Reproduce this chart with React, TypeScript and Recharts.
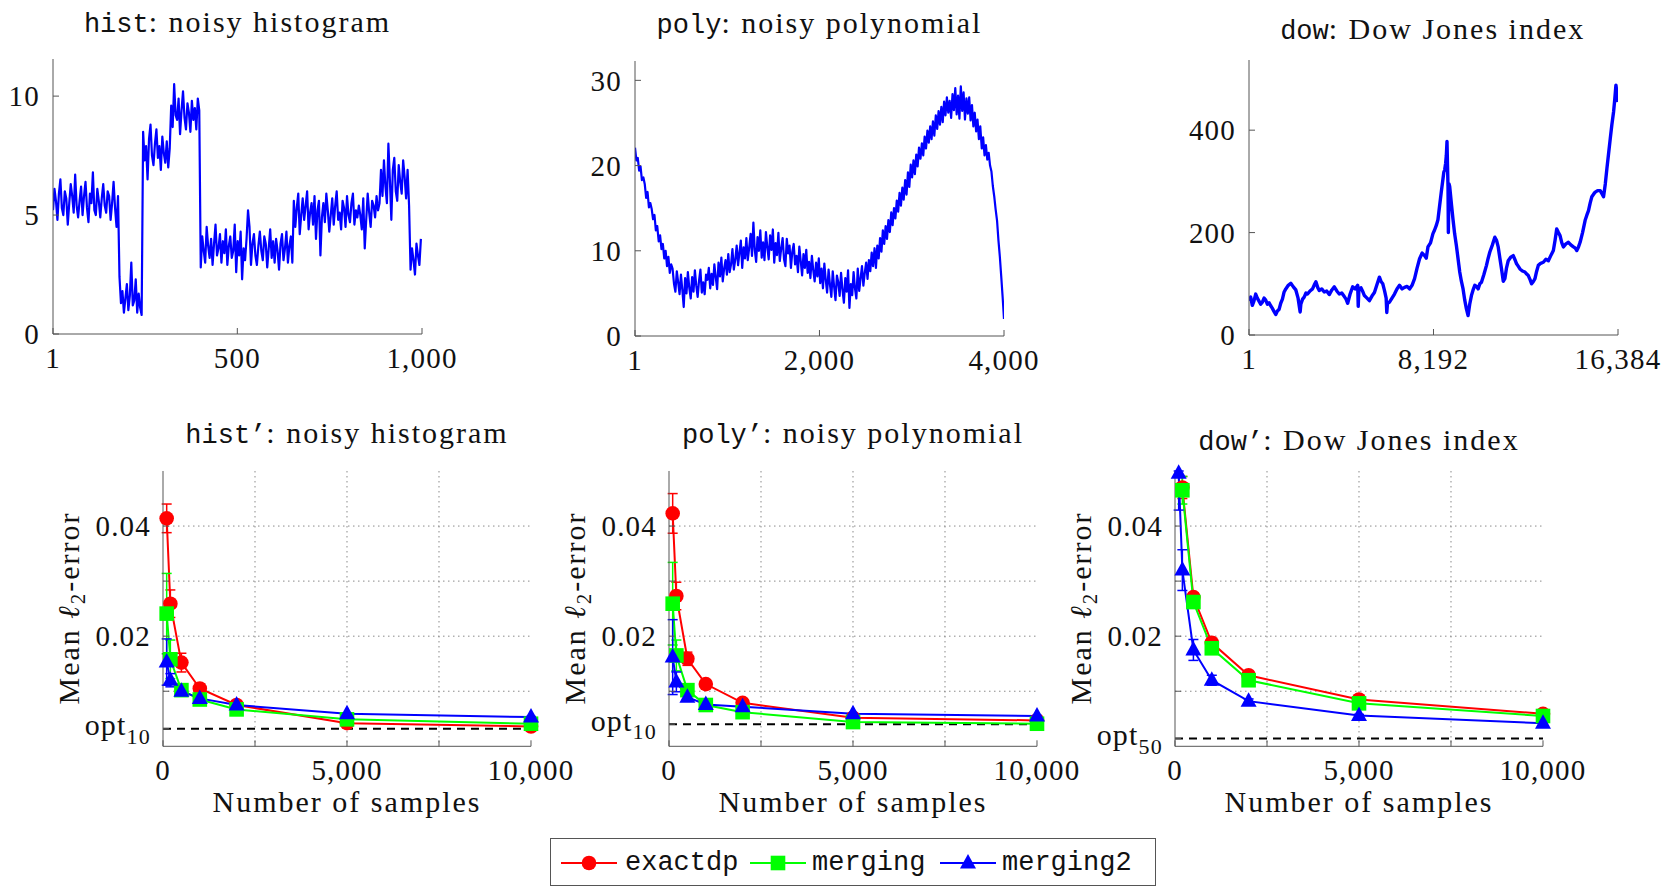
import React from "react";
import {
  LineChart,
  Line,
  XAxis,
  YAxis,
  CartesianGrid,
  ReferenceLine,
  ErrorBar,
} from "recharts";

const SERIF = '"Liberation Serif", "DejaVu Serif", serif';
const MONO = '"Liberation Mono", "DejaVu Sans Mono", monospace';
const RED = "#ff0000";
const GREEN = "#00ff00";
const BLUE = "#0000ff";
const FRAME = "#555555";
const INK = "#111111";
const TICK = { fontFamily: SERIF, fontSize: 29, fill: INK, letterSpacing: 1.2 };

// ---- top row: the raw signals ----
// hist: one value every 4 samples, starting at 1
const histValues = [
  5.2, 6.1, 5.6, 4.8, 5.9, 6.5, 5.3, 5.0, 6.0, 5.7, 4.6, 5.5, 6.3, 5.8, 5.1, 6.7, 5.4, 4.9, 5.6, 6.2,
  5.0, 5.8, 6.4, 5.3, 4.7, 5.9, 5.5, 6.8, 5.2, 5.0, 6.1, 5.6, 4.9, 5.7, 6.3, 5.4, 5.1, 6.0, 5.8, 4.8,
  5.5, 6.4, 5.3, 4.5, 5.8,
  2.4, 1.3, 1.8, 0.9, 1.5, 2.1, 1.0, 1.6, 3.0, 1.2, 1.4, 2.3, 0.9, 1.7, 1.1, 0.8,
  8.5, 7.3, 7.9, 6.5, 8.2, 8.8, 7.5, 7.1, 8.0, 8.6, 7.4, 7.9, 6.9, 8.3, 7.6, 7.2, 8.1, 7.0, 7.8,
  9.6, 8.7, 10.5, 9.2, 9.0, 9.9, 8.4, 9.4, 10.2, 9.1, 8.6, 9.7, 9.3, 8.5, 9.8, 9.0, 9.5, 8.6, 9.9, 9.4,
  2.8, 4.1, 3.5, 3.0, 4.5, 3.7, 3.2, 4.0, 2.9, 3.8, 4.6, 3.3, 3.6, 4.2, 3.0, 3.9, 3.4, 4.4, 2.9, 3.7,
  4.1, 3.2, 3.5, 4.6, 2.6, 3.9, 3.3, 4.3, 2.3, 3.6, 3.1, 4.0, 5.2, 4.5, 2.9, 3.8, 4.2, 3.3, 2.9, 3.7,
  4.3, 3.5, 3.1, 4.1, 3.8, 2.8, 3.6, 4.4, 3.2, 3.9, 3.0, 4.0, 3.5, 2.7, 3.8, 4.2, 3.1, 3.6, 4.3, 3.0,
  3.7, 4.1, 3.0,
  5.6, 4.5, 5.3, 5.9, 4.2, 5.0, 5.7, 4.8, 5.4, 6.0, 4.4, 5.1, 5.5, 4.6, 5.8, 4.0, 5.2, 5.6, 3.3, 4.9,
  5.5, 4.7, 5.9, 5.2, 4.3, 5.0, 5.7, 4.6, 5.4, 6.0, 4.8, 5.1, 4.4, 5.6, 5.3, 4.5, 5.8, 5.0, 4.7, 5.5,
  5.9, 4.6, 5.2, 4.9, 5.4, 5.0, 4.4, 5.7, 3.6, 4.8, 5.9, 5.1, 4.5, 5.6, 5.4, 4.9, 5.8, 5.2, 5.5,
  6.9, 5.8, 7.3, 6.2, 5.5, 8.0, 6.5, 4.8, 6.9, 7.4, 6.0, 5.6, 7.1, 6.4, 5.9, 7.3, 6.6, 5.7, 6.9, 5.4,
  2.7, 3.6, 3.1, 2.5, 3.8, 3.3, 2.9, 4.0,
];

// poly: evenly spread over 1..4000
const polyValues = [
  22.1, 20.6, 20.9, 19.4, 19.9, 18.3, 18.6, 17.8, 16.2, 16.9, 15.1, 15.6, 14.9, 13.7,
  14.2, 12.4, 12.9, 11.1, 11.8, 10.2, 10.8, 9.1, 10.0, 8.2, 9.3, 7.4, 8.4,
  7.9, 6.1, 5.2, 7.6, 6.3, 4.9, 7.2, 5.4, 3.4, 6.8, 5.0, 7.5, 5.6,
  4.4, 6.9, 5.2, 7.7, 5.9, 4.6, 6.5, 7.8, 5.1, 6.3, 4.9, 7.2, 6.6, 8.0, 5.6, 7.3, 6.0, 8.4, 6.9, 5.5,
  8.6, 7.0, 9.2, 6.4, 7.9, 8.9, 7.2, 9.6, 7.5, 8.4, 10.2, 7.8, 9.0, 10.6, 8.3, 9.8, 11.2, 8.0, 10.4, 9.1,
  11.5, 8.9, 10.3, 12.0, 9.4, 13.3, 10.1, 8.7, 11.6, 10.0, 12.4, 9.2, 11.0, 8.9, 12.2, 10.4, 9.0, 11.8, 10.1, 12.5,
  8.6, 10.9, 9.5, 12.1, 8.8, 10.3, 11.5, 9.0, 8.2, 11.4, 9.7, 10.6, 8.0, 9.9, 10.8, 8.4, 9.4, 7.5, 10.5, 8.8,
  7.1, 9.6, 8.0, 10.1, 7.4, 8.7, 6.8, 9.4, 7.7, 6.4, 8.6, 7.0, 9.1, 6.2, 7.9, 5.6, 8.5, 6.6, 5.1, 7.8,
  6.0, 4.6, 7.6, 5.8, 4.2, 7.1, 6.3, 4.7, 7.4, 5.5, 3.9, 6.8, 5.2, 7.7, 3.3, 6.1, 4.8, 7.5, 5.6, 4.4,
  7.9, 5.3, 6.8, 8.2, 5.9, 7.4, 8.6, 6.7, 8.9, 7.6, 9.8, 8.2, 10.3, 8.0, 10.6, 9.1, 11.5, 9.9, 12.4, 10.8,
  12.9, 11.4, 13.6, 12.2, 14.5, 13.0, 15.0, 13.8, 15.9, 14.6, 16.8, 15.3, 17.4, 16.0, 18.3, 16.6, 19.2, 17.5, 20.1, 18.6,
  20.6, 19.0, 21.3, 19.9, 22.1, 20.8, 22.6, 21.2, 23.4, 22.0, 24.1, 22.7, 24.6, 23.1, 25.2, 23.5, 25.9, 24.3, 26.4, 24.8,
  26.9, 25.1, 27.5, 25.9, 28.0, 26.2, 27.6, 25.6, 28.4, 26.5, 29.1, 26.0, 28.2, 25.5, 29.3, 26.4, 28.6, 25.4, 27.9, 26.1,
  28.0, 25.3, 27.1, 24.6, 26.2, 24.0, 25.4, 23.1, 24.6, 22.0, 23.3, 21.2, 22.4, 20.7, 21.5, 20.0, 19.3, 17.6, 16.4, 14.9,
  13.5, 11.2, 9.3, 7.0, 4.6, 2.0,
];

const dowIndex = [
  1, 75, 149, 220, 298, 370, 446, 520, 595, 670, 743, 820, 892, 965, 1040, 1110, 1188, 1260, 1337, 1410,
  1485, 1560, 1634, 1745, 1857, 1970, 2080, 2180, 2272, 2302, 2380, 2451, 2530, 2600, 2710, 2822, 2900, 2971,
  3050, 3119, 3230, 3342, 3450, 3565, 3680, 3788, 3900, 4010, 4120, 4233, 4310, 4382, 4490, 4604, 4715, 4827,
  4850, 4880, 4976, 5050, 5124, 5240, 5347, 5460, 5570, 5680, 5792, 5870, 5941, 6020, 6090, 6119, 6150, 6238,
  6350, 6461, 6570, 6684, 6800, 6906, 7020, 7129, 7240, 7352, 7460, 7574, 7690, 7797, 7870, 7946, 8060, 8168,
  8240, 8317, 8390, 8465, 8540, 8614, 8650, 8688, 8730, 8763, 8792, 8815, 8837, 8852, 8882, 8911, 8990, 9060,
  9130, 9208, 9280, 9357, 9430, 9505, 9580, 9654, 9728, 9800, 9877, 9950, 10025, 10100, 10174, 10250, 10322,
  10430, 10545, 10620, 10694, 10800, 10916, 10990, 11065, 11140, 11213, 11290, 11361, 11430, 11510, 11620,
  11733, 11810, 11881, 11960, 12030, 12140, 12252, 12330, 12401, 12480, 12549, 12620, 12698, 12770, 12846,
  12950, 13069, 13180, 13292, 13400, 13514, 13590, 13663, 13740, 13811, 13890, 13960, 14070, 14183, 14290,
  14405, 14480, 14554, 14630, 14702, 14810, 14925, 15000, 15074, 15150, 15222, 15300, 15371, 15480, 15594,
  15670, 15742, 15820, 15891, 15960, 16039, 16110, 16188, 16240, 16292, 16340, 16384,
];
const dowValues = [
  67, 74, 58, 66, 80, 72, 66, 60, 64, 72, 68, 60, 63, 57, 52, 46, 40, 47, 50, 62,
  70, 84, 90, 97, 101, 94, 88, 72, 45, 60, 70, 74, 82, 80, 86, 90, 98, 104,
  93, 87, 90, 84, 86, 79, 88, 94, 86, 80, 82, 75, 70, 62, 80, 94, 90, 97,
  56, 90, 92, 85, 77, 72, 67, 76, 83, 98, 113, 104, 100, 86, 72, 44, 62, 64,
  72, 80, 90, 97, 90, 93, 95, 90, 97, 110, 130, 149, 160, 155, 150, 172, 180, 198,
  205, 214, 225, 253, 280, 305, 318, 322, 335, 351, 378, 330, 290, 200, 295, 290, 255, 225,
  198, 175, 150, 123, 105, 90, 68, 51, 38, 60, 77, 88, 97, 95, 90, 100, 103,
  118, 136, 150, 162, 175, 191, 185, 172, 150, 129, 105, 110, 130, 145, 152,
  155, 147, 139, 134, 129, 125, 123, 119, 116, 108, 100, 104, 110, 124, 136,
  140, 142, 148, 145, 155, 165, 185, 207, 200, 194, 180, 172, 178, 181, 176,
  172, 170, 165, 172, 181, 200, 224, 234, 243, 258, 270, 275, 279, 282, 282,
  276, 270, 295, 325, 352, 383, 410, 436, 460, 488, 472, 455,
];

// ---- bottom row: mean l2-error vs number of samples ----
const samples = [100, 200, 500, 1000, 2000, 5000, 10000];

const histExactdp = [0.0414, 0.0259, 0.0152, 0.0105, 0.0075, 0.0042, 0.0036];
const histExactdpErr = [0.0026, 0.0025, 0.0017, 0.0008, 0.0004, 0.0002, 0.0002];
const histMerging = [0.0241, 0.0158, 0.0102, 0.0085, 0.0067, 0.0049, 0.0041];
const histMergingErr = [0.0073, 0.0035, 0.0008, 0.0006, 0.0003, 0.0002, 0.0001];
const histMerging2 = [0.0153, 0.012, 0.01, 0.0087, 0.0075, 0.0059, 0.0053];
const histMerging2Err = [0.0042, 0.0012, 0.0006, 0.0004, 0.0002, 0.0001, 0.0001];
const histOpt = 0.0032;

const polyExactdp = [0.0423, 0.0273, 0.0159, 0.0113, 0.0079, 0.0052, 0.0047];
const polyExactdpErr = [0.0036, 0.0025, 0.0012, 0.0006, 0.0004, 0.0002, 0.0001];
const polyMerging = [0.0259, 0.0165, 0.0102, 0.0075, 0.0062, 0.0044, 0.0041];
const polyMergingErr = [0.0075, 0.0028, 0.0008, 0.0004, 0.0002, 0.0001, 0.0001];
const polyMerging2 = [0.0162, 0.0117, 0.0089, 0.0076, 0.0072, 0.0059, 0.0055];
const polyMerging2Err = [0.0068, 0.0018, 0.0006, 0.0003, 0.0002, 0.0001, 0.0001];
const polyOpt = 0.004;

const dowExactdp = [null, 0.047, 0.0271, 0.0188, 0.0129, 0.0085, 0.0059];
const dowExactdpErr = [null, 0.002, 0.0008, 0.0005, 0.0003, 0.0002, 0.0001];
const dowMerging = [null, 0.0465, 0.0262, 0.0178, 0.012, 0.0078, 0.0055];
const dowMergingErr = [null, 0.0025, 0.0008, 0.0005, 0.0003, 0.0002, 0.0001];
const dowMerging2 = [0.0496, 0.032, 0.0175, 0.012, 0.0082, 0.0056, 0.0042];
const dowMerging2Err = [[0.0067, 0.0004], 0.0037, 0.0019, 0.0009, 0.0004, 0.0002, 0.0001];
const dowOpt = 0.0014;

const histData = histValues.map((y, i) => ({ x: 1 + 4 * i, y }));
const polyData = polyValues.map((y, i) => ({
  x: Math.round(1 + (i * 3999) / (polyValues.length - 1)),
  y,
}));
const dowData = dowIndex.map((x, i) => ({ x, y: dowValues[i] }));

const errRows = (a: any[], ae: any[], m: any[], me: any[], m2: any[], m2e: any[]) =>
  samples.map((x, i) => ({ x, a: a[i], ae: ae[i], m: m[i], me: me[i], m2: m2[i], m2e: m2e[i] }));

const histErrData = errRows(histExactdp, histExactdpErr, histMerging, histMergingErr, histMerging2, histMerging2Err);
const polyErrData = errRows(polyExactdp, polyExactdpErr, polyMerging, polyMergingErr, polyMerging2, polyMerging2Err);
const dowErrData = errRows(dowExactdp, dowExactdpErr, dowMerging, dowMergingErr, dowMerging2, dowMerging2Err);

const fmt = (v: number) => v.toLocaleString("en-US");

function SignalPanel({ left, top, data, xTicks, yTicks, yMax, lineWidth }: any) {
  const padL = 70, padR = 60, padT = 12, padB = 50;
  const w = 369, h = 275;
  const xDomain = [xTicks[0], xTicks[xTicks.length - 1]];
  return (
    <div style={{ position: "absolute", left: left - padL, top: top - padT }}>
      <LineChart
        width={padL + w + padR}
        height={padT + h + padB}
        data={data}
        margin={{ top: padT, right: padR, bottom: 0, left: 0 }}
      >
        <XAxis xAxisId="b" dataKey="x" type="number" domain={xDomain} ticks={xTicks} interval={0}
          allowDataOverflow height={padB} tickSize={-6} tickMargin={19} stroke={FRAME}
          tickFormatter={fmt} tick={TICK} />
        <XAxis xAxisId="t" orientation="top" dataKey="x" type="number" domain={xDomain} ticks={xTicks}
          interval={0} allowDataOverflow height={0} tickSize={-6} tick={false} stroke={FRAME} />
        <YAxis yAxisId="l" type="number" domain={[0, yMax]} ticks={yTicks} interval={0} allowDataOverflow
          width={padL} tickSize={-6} tickMargin={19} stroke={FRAME} tick={TICK} />
        <YAxis yAxisId="r" orientation="right" type="number" domain={[0, yMax]} ticks={yTicks} interval={0}
          allowDataOverflow width={0} tickSize={-6} tick={false} stroke={FRAME} />
        <Line xAxisId="b" yAxisId="l" type="linear" dataKey="y" stroke={BLUE} strokeWidth={lineWidth}
          strokeLinejoin="round" dot={false} activeDot={false} isAnimationActive={false} />
      </LineChart>
    </div>
  );
}

const redDot = (p: any) =>
  p.cx == null || p.cy == null || p.value == null ? (
    <g key={"r" + p.index} />
  ) : (
    <circle key={"r" + p.index} cx={p.cx} cy={p.cy} r={7.3} fill={RED} />
  );
const greenDot = (p: any) =>
  p.cx == null || p.cy == null || p.value == null ? (
    <g key={"g" + p.index} />
  ) : (
    <rect key={"g" + p.index} x={p.cx - 7.3} y={p.cy - 7.3} width={14.6} height={14.6} fill={GREEN} />
  );
const blueDot = (p: any) =>
  p.cx == null || p.cy == null || p.value == null ? (
    <g key={"b" + p.index} />
  ) : (
    <polygon key={"b" + p.index} fill={BLUE}
      points={`${p.cx},${p.cy - 9} ${p.cx - 8},${p.cy + 5.5} ${p.cx + 8},${p.cy + 5.5}`} />
  );

const errTick = (opt: number, sub: string) => (props: any) => {
  const { x, y, payload } = props;
  const v = payload.value;
  const common = { fontFamily: SERIF, fill: INK, textAnchor: "end" as const, letterSpacing: 1.2 };
  if (v === opt)
    return (
      <text x={x + 1} y={y + 6.5} fontSize={30} {...common}>
        opt
        <tspan dy={8.5} fontSize={22}>{sub}</tspan>
      </text>
    );
  if (v === 0.02 || v === 0.04)
    return (
      <text x={x + 1} y={y + 10} fontSize={29} {...common}>
        {v.toFixed(2)}
      </text>
    );
  return <g />;
};

function ErrorPanel({ left, data, opt, optSub }: any) {
  const padL = 110, padR = 60, padT = 22, padB = 50;
  const w = 368, h = 275.3, top = 470.7;
  const xTicks = [0, 2500, 5000, 7500, 10000];
  const yTicks = [opt, 0.01, 0.02, 0.03, 0.04];
  return (
    <div style={{ position: "absolute", left: left - padL, top: top - padT }}>
      <LineChart
        width={padL + w + padR}
        height={padT + h + padB}
        data={data}
        margin={{ top: padT, right: padR, bottom: 0, left: 0 }}
      >
        <CartesianGrid xAxisId="b" yAxisId="l" stroke="#8a8a8a" strokeDasharray="1.5 3.5"
          horizontalValues={[0.01, 0.02, 0.03, 0.04]} verticalValues={[2500, 5000, 7500]} />
        <XAxis xAxisId="b" dataKey="x" type="number" domain={[0, 10000]} ticks={xTicks} interval={0}
          height={padB} tickSize={-6} tickMargin={19} stroke={FRAME} tick={TICK}
          tickFormatter={(v: number) => (v % 5000 === 0 ? fmt(v) : "")} />
        <XAxis xAxisId="t" orientation="top" dataKey="x" type="number" domain={[0, 10000]} ticks={xTicks}
          interval={0} allowDataOverflow height={0} tickSize={-6} tick={false} stroke={FRAME} />
        <YAxis yAxisId="l" type="number" domain={[0, 0.05]} ticks={yTicks} interval={0} width={padL}
          tickSize={-6} tickMargin={19} stroke={FRAME} tick={errTick(opt, optSub)} />
        <YAxis yAxisId="r" orientation="right" type="number" domain={[0, 0.05]} ticks={yTicks} interval={0}
          allowDataOverflow width={0} tickSize={-6} tick={false} stroke={FRAME} />
        <ReferenceLine xAxisId="b" yAxisId="l" y={opt} stroke="#000000" strokeWidth={2} strokeDasharray="8 6" />
        <Line xAxisId="b" yAxisId="l" dataKey="a" stroke={RED} strokeWidth={2} dot={redDot}
          activeDot={false} isAnimationActive={false}>
          <ErrorBar dataKey="ae" direction="y" width={5} stroke={RED} strokeWidth={1.5} />
        </Line>
        <Line xAxisId="b" yAxisId="l" dataKey="m" stroke={GREEN} strokeWidth={2} dot={greenDot}
          activeDot={false} isAnimationActive={false}>
          <ErrorBar dataKey="me" direction="y" width={5} stroke={GREEN} strokeWidth={1.5} />
        </Line>
        <Line xAxisId="b" yAxisId="l" dataKey="m2" stroke={BLUE} strokeWidth={2} dot={blueDot}
          activeDot={false} isAnimationActive={false}>
          <ErrorBar dataKey="m2e" direction="y" width={5} stroke={BLUE} strokeWidth={1.5} />
        </Line>
      </LineChart>
    </div>
  );
}

const textBase = {
  position: "absolute" as const,
  fontFamily: SERIF,
  fontSize: 30,
  lineHeight: "30px",
  letterSpacing: 2,
  color: INK,
  whiteSpace: "nowrap" as const,
  textAlign: "center" as const,
};

const Title = ({ cx, baseline, code, text }: any) => (
  <div style={{ ...textBase, left: cx - 300, width: 600, top: baseline - 25 }}>
    <span style={{ fontFamily: MONO, fontSize: 27, letterSpacing: 0 }}>{code}</span>: {text}
  </div>
);

const XLabel = ({ cx }: any) => (
  <div style={{ ...textBase, left: cx - 200, width: 400, top: 811.7 - 25 }}>Number of samples</div>
);

const YLabel = ({ boxLeft }: any) => (
  <div
    style={{
      ...textBase,
      left: boxLeft - 94 - 150,
      top: 608.3 - 15,
      width: 300,
      height: 30,
      transform: "rotate(-90deg)",
    }}
  >
    Mean <i>ℓ</i>
    <sub style={{ fontSize: 21, verticalAlign: "-6px", lineHeight: 0 }}>2</sub>-error
  </div>
);

const Legend = () => (
  <div
    style={{
      position: "absolute",
      left: 550,
      top: 838,
      width: 606,
      height: 48,
      boxSizing: "border-box",
      border: `1.3px solid ${FRAME}`,
    }}
  >
    <svg width={606} height={48} style={{ position: "absolute", left: -1, top: -1 }}>
      <line x1={11} x2={67} y1={25} y2={25} stroke={RED} strokeWidth={2} />
      <circle cx={39} cy={25} r={7.3} fill={RED} />
      <text x={75} y={32} fontFamily={MONO} fontSize={27} fill={INK}>exactdp</text>
      <line x1={200} x2={256} y1={25} y2={25} stroke={GREEN} strokeWidth={2} />
      <rect x={220.7} y={17.7} width={14.6} height={14.6} fill={GREEN} />
      <text x={262} y={32} fontFamily={MONO} fontSize={27} fill={INK}>merging</text>
      <line x1={390} x2={446} y1={25} y2={25} stroke={BLUE} strokeWidth={2} />
      <polygon points="418,16 410,30.5 426,30.5" fill={BLUE} />
      <text x={452} y={32} fontFamily={MONO} fontSize={27} fill={INK}>merging2</text>
    </svg>
  </div>
);

export default function App() {
  return (
    <div
      style={{
        position: "absolute",
        left: 0,
        top: 0,
        width: 1671,
        height: 886,
        overflow: "hidden",
        background: "#ffffff",
      }}
    >
      <Title cx={237.5} baseline={32.3} code="hist" text="noisy histogram" />
      <Title cx={819.5} baseline={33.3} code="poly" text="noisy polynomial" />
      <Title cx={1432.7} baseline={39.3} code="dow" text="Dow Jones index" />

      <SignalPanel left={53} top={59.3} data={histData} xTicks={[1, 500, 1000]} yTicks={[0, 5, 10]}
        yMax={11.56} lineWidth={2.2} />
      <SignalPanel left={635} top={61.3} data={polyData} xTicks={[1, 2000, 4000]} yTicks={[0, 10, 20, 30]}
        yMax={32.27} lineWidth={2.2} />
      <SignalPanel left={1248.5} top={60} data={dowData} xTicks={[1, 8192, 16384]} yTicks={[0, 200, 400]}
        yMax={537} lineWidth={3.4} />

      <Title cx={347} baseline={443.3} code="hist’" text="noisy histogram" />
      <Title cx={853} baseline={443} code="poly’" text="noisy polynomial" />
      <Title cx={1359} baseline={450} code="dow’" text="Dow Jones index" />

      <ErrorPanel left={163} data={histErrData} opt={histOpt} optSub="10" />
      <ErrorPanel left={669} data={polyErrData} opt={polyOpt} optSub="10" />
      <ErrorPanel left={1175.4} data={dowErrData} opt={dowOpt} optSub="50" />

      <YLabel boxLeft={163} />
      <YLabel boxLeft={669} />
      <YLabel boxLeft={1175.4} />
      <XLabel cx={347} />
      <XLabel cx={853} />
      <XLabel cx={1359} />

      <Legend />
    </div>
  );
}
